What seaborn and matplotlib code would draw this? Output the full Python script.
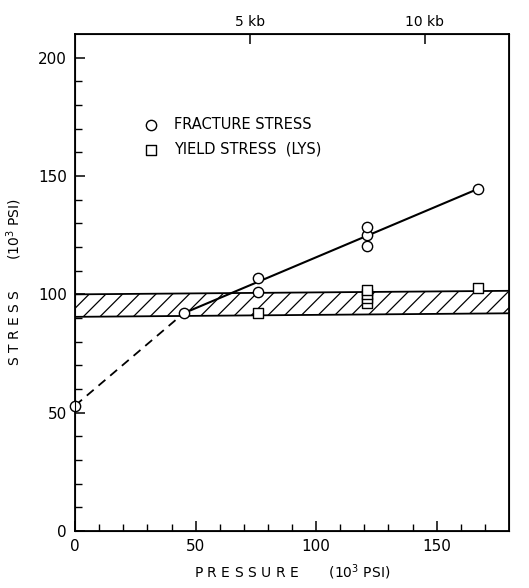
import numpy as np
import pandas as pd
import matplotlib
matplotlib.use('Agg')
import matplotlib.pyplot as plt
import seaborn as sns

# values
frac_p = [0, 45, 76, 76, 121, 121, 121, 167]
frac_s = [53, 92, 101, 107, 120.5, 125, 128.5, 144.5]
yield_p = [76, 121, 121, 121, 121, 167]
yield_s = [92, 96.5, 98.3, 100, 102, 102.5]

# fitted fracture line: dashed part (extrapolated) and solid part
dash_p = [0, 45]
dash_s = [53, 92]
solid_p = [45, 167]
solid_s = [92, 144.5]

# yield stress scatter band
band_p = [0, 180]
band_lo = [90.5, 92]
band_hi = [100, 101.5]

kb_ticks = [72.5, 145]
kb_labels = ['5 kb', '10 kb']

sns.set_style('ticks')
plt.rcParams['font.family'] = ['DejaVu Sans']
plt.rcParams['hatch.linewidth'] = 0.9
plt.rcParams['text.color'] = 'black'
plt.rcParams['axes.labelcolor'] = 'black'
plt.rcParams['xtick.color'] = 'black'
plt.rcParams['ytick.color'] = 'black'
plt.rcParams['axes.edgecolor'] = 'black'

fig = plt.figure(figsize=(5.29, 5.88), dpi=100)
ax = fig.add_axes([0.142, 0.097, 0.82, 0.845])

frac = pd.DataFrame({'p': frac_p, 's': frac_s})
yld = pd.DataFrame({'p': yield_p, 's': yield_s})

# band
ax.fill_between(band_p, band_lo, band_hi, facecolor='none', edgecolor='black',
                hatch='//', linewidth=0)
sns.lineplot(x=band_p, y=band_lo, color='black', lw=1.3, ax=ax)
sns.lineplot(x=band_p, y=band_hi, color='black', lw=1.3, ax=ax)

# fracture trend
sns.lineplot(x=dash_p, y=dash_s, color='black', lw=1.3, ax=ax, linestyle=(0, (5, 3.5)))
sns.lineplot(x=solid_p, y=solid_s, color='black', lw=1.5, ax=ax)

sns.scatterplot(data=frac, x='p', y='s', marker='o', s=55, facecolor='white',
                edgecolor='black', linewidth=1.0, ax=ax, zorder=5,
                label='FRACTURE STRESS', clip_on=False)
sns.scatterplot(data=yld, x='p', y='s', marker='s', s=45, facecolor='white',
                edgecolor='black', linewidth=1.0, ax=ax, zorder=5,
                label='YIELD STRESS  (LYS)')

ax.set_xlim(0, 180)
ax.set_ylim(0, 210)
ax.set_xticks(np.arange(0, 180, 10), minor=True)
ax.set_yticks(np.arange(0, 210, 10), minor=True)
ax.set_xticks([0, 50, 100, 150])
ax.set_yticks([0, 50, 100, 150, 200])
ax.tick_params(which='major', direction='in', length=7, width=1.1, labelsize=11, pad=6)
ax.tick_params(which='minor', direction='in', length=5, width=1.0)
for sp in ax.spines.values():
    sp.set_visible(True)
    sp.set_linewidth(1.3)

ax.set_xlabel('P R E S S U R E       (10$^3$ PSI)', fontsize=10, labelpad=6)
ax.set_ylabel('S T R E S S       (10$^3$ PSI)', fontsize=10, labelpad=10)

ax2 = ax.twiny()
ax2.set_xlim(0, 180)
ax2.set_xticks(kb_ticks)
ax2.set_xticklabels(kb_labels)
ax2.tick_params(direction='in', length=7, width=1.1, labelsize=10, pad=4)

ax.legend(loc='upper left', bbox_to_anchor=(0.11, 0.86), frameon=False,
          fontsize=10.5, handletextpad=0.6, labelspacing=0.7, markerscale=1.0)

fig.savefig('out.png', dpi=100)
